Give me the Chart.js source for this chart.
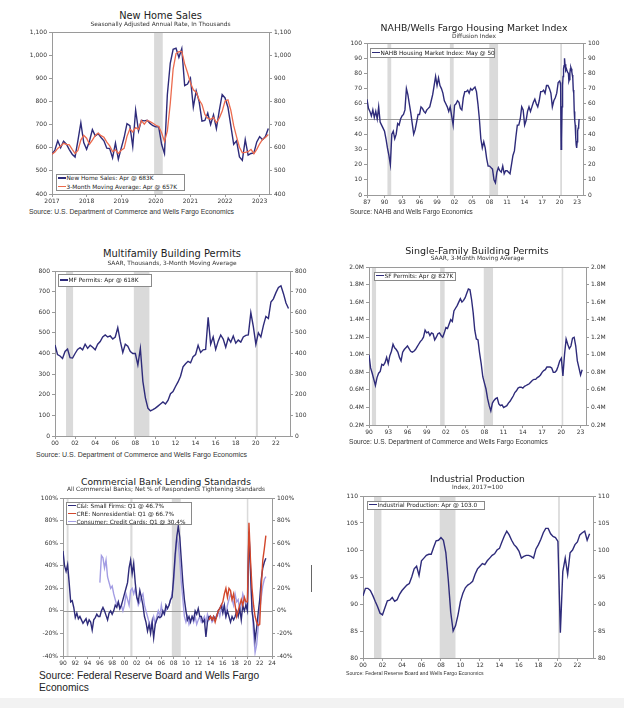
<!DOCTYPE html>
<html><head><meta charset="utf-8">
<script src="https://cdn.jsdelivr.net/npm/chart.js@4.4.0/dist/chart.umd.min.js"></script>
<style>
html,body{margin:0;padding:0;background:#fff;}
body{width:624px;height:708px;position:relative;overflow:hidden;font-family:'DejaVu Sans',sans-serif;}
.t{position:absolute;transform:translate(-50%,-50%);white-space:nowrap;color:#222;line-height:1;}
.title{font-size:9.5px;}
.sub{font-size:5.9px;color:#333;}
.src{position:absolute;font-family:'Liberation Sans',Arial,sans-serif;white-space:nowrap;color:#333;transform:translateY(-50%);line-height:1.15;}
canvas{position:absolute;}
.leg{position:absolute;border:1px solid #8a8a8a;background:#fff;font-size:5.8px;color:#222;box-sizing:border-box;}
.row{position:absolute;left:1px;white-space:nowrap;line-height:7px;height:7px;}
.sw{display:inline-block;width:8px;height:1.5px;vertical-align:middle;margin-right:0.5px;position:relative;top:-0.5px;}
</style></head><body>

<div class="t title" style="left:160.5px;top:15.7px;font-size:9.8px">New Home Sales</div>
<div class="t sub" style="left:160.5px;top:25px">Seasonally Adjusted Annual Rate, In Thousands</div>
<div class="src" style="left:29px;top:211.7px;font-size:6.8px">Source: U.S. Department of Commerce and Wells Fargo Economics</div>

<div class="t title" style="left:474px;top:27.7px;font-size:9.3px">NAHB/Wells Fargo Housing Market Index</div>
<div class="t sub" style="left:474px;top:36.7px">Diffusion Index</div>
<div class="src" style="left:350px;top:211.7px;font-size:6.4px">Source: NAHB and Wells Fargo Economics</div>

<div class="t title" style="left:172px;top:254.3px;font-size:9.9px">Multifamily Building Permits</div>
<div class="t sub" style="left:172px;top:264px">SAAR, Thousands, 3-Month Moving Average</div>
<div class="src" style="left:36px;top:455px;font-size:7px">Source: U.S. Department of Commerce and Wells Fargo Economics</div>

<div class="t title" style="left:477px;top:250.7px;font-size:9.5px">Single-Family Building Permits</div>
<div class="t sub" style="left:477.5px;top:259.3px">SAAR, 3-Month Moving Average</div>
<div class="src" style="left:349px;top:441.7px;font-size:6.6px">Source: U.S. Department of Commerce and Wells Fargo Economics</div>

<div class="t title" style="left:166px;top:481.7px;font-size:9.2px">Commercial Bank Lending Standards</div>
<div class="t sub" style="left:166px;top:490.3px">All Commercial Banks; Net % of Respondents Tightening Standards</div>
<div class="src" style="left:39px;top:681.7px;font-size:10.2px;color:#222;line-height:12px">Source: Federal Reserve Board and Wells Fargo<br>Economics</div>

<div class="t title" style="left:477.5px;top:479.3px;font-size:9.2px">Industrial Production</div>
<div class="t sub" style="left:477.5px;top:488.3px">Index, 2017=100</div>
<div class="src" style="left:346px;top:674.3px;font-size:5.15px">Source: Federal Reserve Board and Wells Fargo Economics</div>

<div style="position:absolute;left:0;top:698px;width:624px;height:10px;background:#f2f2f2"></div>
<div style="position:absolute;left:311px;top:565px;width:1px;height:27px;background:#666"></div>

<script>
// ---------- DATA ----------
// New Home Sales (monthly, Jan 2017 - Apr 2023), thousands SAAR
const nhsStart = 2017;
const nhsSales = [572,590,630,600,628,615,592,572,560,632,708,622,
  593,629,678,651,661,644,630,598,596,556,620,550,
  598,644,704,695,605,762,672,718,716,719,705,695,
  690,690,615,575,830,965,1025,1030,990,1028,868,875,
  900,775,845,800,715,718,750,700,742,682,760,830,
  815,775,695,615,630,560,545,635,568,575,578,625,
  648,635,648,683];
const nhsAvg = [572,581,597,607,619,614,612,593,575,588,633,654,
  641,615,633,653,663,652,645,624,608,583,591,575,
  589,597,649,681,668,687,680,717,702,718,713,706,
  697,692,665,627,673,790,940,1007,1015,1016,962,924,
  881,850,840,807,787,744,728,723,731,708,728,757,
  802,807,762,695,647,602,578,580,583,593,574,593,
  617,636,644,657];
const nhsXTicks = [2017,2018,2019,2020,2021,2022,2023];
const nhsYTicks = [400,500,600,700,800,900,1000,1100];
const nhsBands = [[2019.95,2020.2]];

// NAHB Housing Market Index: quarterly 1987-2019, monthly 2020-May 2023
const nahbQStart = 1987;
const nahbQ = [63,57,55,52, 56,51,55,50, 58,48,46,44, 42,37,31,26, 20,40,42,37,
  40,47,46,50, 52,53,56,70, 66,60,54,47, 40,43,48,53, 53,58,57,55,
  54,56,57,58, 62,66,72,78, 72,77,72,70, 67,62,60,58, 55,58,52,46,
  59,60,62,61, 57,56,64,68, 68,69,67,70, 69,70,71,68, 60,50,37,31,
  35,31,24,19, 19,18,17,10, 8,15,18,16, 15,19,14,16, 16,15,14,20,
  26,29,38,46, 46,50,58,56, 46,49,55,58, 55,58,61,63, 60,58,62,68,
  68,69,67,72, 72,70,67,58, 62,64,67,74];
const nahbMStart = 2020;
const nahbM = [75,74,72,30,37,58,72,78,83,85,90,86,
  83,82,83,83,81,81,80,75,76,80,83,84,
  83,81,79,77,69,67,55,49,46,38,33,31,
  35,42,44,45,50];
const nahbXTicks = [1987,1990,1993,1996,1999,2002,2005,2008,2011,2014,2017,2020,2023];
const nahbYTicks = [0,10,20,30,40,50,60,70,80,90,100];
const nahbBands = [[1990.5,1991.15],[2001.2,2001.85],[2007.95,2009.45],[2020.1,2020.4]];

// Multifamily permits, quarterly 2000 - Q2 2023 (thousands)
const mfStart = 2000;
const mfValues = [441,395,388,376, 410,422,380,378, 400,420,428,418, 445,425,440,430,
  418,445,458,480, 490,480,485,470, 480,525,460,405, 445,435,410,400,
  400,345,425,265, 185,135,122,128, 135,145,155,165, 155,172,205,215,
  240,262,290,335, 350,362,355,385, 395,440,405,418, 420,575,445,480,
  420,460,490,470, 430,475,455,485, 450,465,455,480, 488,490,598,530,
  445,500,480,535, 580,570,650,665, 695,720,728,690, 645,618];
const mfXTicks = [2000,2002,2004,2006,2008,2010,2012,2014,2016,2018,2020,2022];
const mfYTicks = [0,100,200,300,400,500,600,700,800];
const mfBands = [[2001.1,2001.8],[2007.85,2009.4],[2020.0,2020.2]];

// Single-family permits, quarterly 1990 - Q2 2023 (millions)
const sfStart = 1990;
const sfValues = [1.00,0.85,0.79,0.72, 0.65,0.74,0.79,0.81, 0.89,0.88,0.91,0.97, 0.90,0.99,1.04,1.12,
  1.08,1.06,1.03,0.97, 0.93,1.03,1.06,1.08, 1.10,1.07,1.04,1.03, 1.04,1.06,1.09,1.12,
  1.15,1.17,1.20,1.28, 1.25,1.26,1.22,1.25, 1.24,1.17,1.20,1.24, 1.25,1.22,1.20,1.25,
  1.31,1.30,1.35,1.40, 1.38,1.50,1.53,1.56, 1.60,1.64,1.60,1.62, 1.65,1.70,1.75,1.74,
  1.63,1.48,1.28,1.18, 1.17,1.02,0.90,0.75, 0.68,0.61,0.50,0.42, 0.36,0.45,0.48,0.50,
  0.51,0.44,0.42,0.43, 0.40,0.41,0.42,0.45, 0.47,0.50,0.53,0.57, 0.59,0.62,0.63,0.63,
  0.62,0.64,0.65,0.66, 0.67,0.69,0.71,0.72, 0.72,0.74,0.75,0.77, 0.80,0.82,0.83,0.86,
  0.86,0.86,0.85,0.80, 0.80,0.82,0.87,0.93, 0.96,0.76,1.00,1.18, 1.12,1.07,1.10,1.19,
  1.20,1.10,0.93,0.85, 0.77,0.83];
const sfXTicks = [1990,1993,1996,1999,2002,2005,2008,2011,2014,2017,2020,2023];
const sfYTicks = [0.2,0.4,0.6,0.8,1.0,1.2,1.4,1.6,1.8,2.0];
const sfBands = [[1990.45,1991.1],[2001.1,2001.8],[2007.9,2009.35],[2020.05,2020.3]];

// Lending standards, quarterly (net % tightening)
const ciStart = 1990;
const ciValues = [53,40,35,41, 25,8,9,3, -6,-2,-7,-5, -8,-11,-9,-7, -12,-8,-10,-17,
  -8,-6,-3,-5, -5,0,3,0, -4,-8,-2,0, -3,0,5,3, 8,2,5,10,
  15,20,25,38, 45,33,42,25, 12,8,18,12, 5,-5,-10,-18, -12,-20,-10,-24,
  -12,-8,-5,-6, -5,0,-3,5, 2,5,10,12, 30,50,65,75, 65,45,25,10,
  0,-8,-5,-10, -5,-8,0,-3, 2,-5,-5,-10, -8,-23,-10,-5, -5,-8,-5,-8,
  -5,0,2,5, -2,5,-5,0, -5,-10,-5,-8, -5,0,-5,2, -8,5,0,5,
  0,70,35,0, -10,-26,-15,-2, 10,28,38,43, 46.7];
const creStart = 2013.75;
const creValues = [-8, -5,-8,-5,-10, -5,0,2,5, 8,15,20,12, 20,18,10,15, 5,-5,0,5,
  10,5,12,8, 8,78,45,20, 5,-5,-10,-13, -12,20,45,55, 66.7];
const ccStart = 1996;
const ccValues = [25,49,47,38, 45,30,25,20, 22,15,10,5, 8,2,5,0, 5,15,10,5,
  18,20,15,20, 12,5,8,12, 15,5,0,-5, -10,-15,-10,-5, -12,-5,0,-5,
  5,-3,0,0, 3,5,10,15, 25,45,65,60, 45,25,10,-5, -10,-5,-12,-8,
  -5,-10,-5,-12, -8,-5,-10,-8, -5,-10,-3,-8, -5,-10,-8,-5, -5,0,-5,2,
  5,0,-5,5, 10,15,10,5, 15,8,10,0, 5,15,10,5, 5,70,40,5,
  -20,-37,-30,-15, 0,12,22,28, 30.4];
const lendXTicks = [1990,1992,1994,1996,1998,2000,2002,2004,2006,2008,2010,2012,2014,2016,2018,2020,2022,2024];
const lendYTicks = [-40,-20,0,20,40,60,80,100];
const lendBands = [[1990.6,1990.9],[2000.95,2001.3],[2007.7,2009.15],[2019.9,2020.15]];

// Industrial production, quarterly 2000 - Q2 2023 (2017=100)
const ipStart = 2000;
const ipValues = [91.5,92.9,92.9,92.5, 91.6,90.5,89.5,88.3, 88.0,89.3,90.6,90.7, 91.2,90.5,90.8,91.8,
  92.5,93.0,93.5,93.8, 95.0,96.5,97.0,95.3, 98.0,98.5,99.0,99.2, 99.2,100.5,101.7,101.8,
  102.3,101.8,99.5,94.5, 88.5,85.0,86.0,88.0, 90.5,92.0,93.0,93.5, 93.8,94.2,95.5,96.5,
  97.0,97.5,97.3,98.0, 98.5,99.0,99.3,100.0, 100.3,101.5,102.6,103.5, 102.8,101.8,101.0,100.5,
  99.8,98.5,98.8,99.0, 99.0,98.8,98.5,100.2, 101.0,102.0,103.2,104.0, 104.0,103.0,102.5,102.3,
  101.6,84.7,96.0,98.5, 95.5,99.5,100.0,101.0, 101.5,102.8,103.2,103.5, 101.8,103.0];
const ipXTicks = [2000,2002,2004,2006,2008,2010,2012,2014,2016,2018,2020,2022];
const ipYTicks = [80,85,90,95,100,105,110];
const ipBands = [[2001.13,2001.89],[2007.87,2009.49],[2020.02,2020.2]];

// ---------- DRAWING ----------
const NAVY = '#2e2b7a', SALMON = '#ec6b4e', RED = '#d2472c', LILAC = '#a39de3';
const pts = (start, step, vals) => vals.map((v, i) => ({x: start + i * step, y: v}));
const yy = v => String(v % 100).padStart(2, '0');

Chart.defaults.font.family = "'DejaVu Sans', sans-serif";

function panel(o) {
  const padL = 32, padR = 32, padT = 6, padB = 14;
  const W = o.R - o.L + padL + padR, H = o.B - o.T + padT + padB;
  const cv = document.createElement('canvas');
  cv.width = W; cv.height = H;
  cv.style.left = (o.L - padL) + 'px'; cv.style.top = (o.T - padT) + 'px';
  cv.style.width = W + 'px'; cv.style.height = H + 'px';
  document.body.insertBefore(cv, document.body.firstChild);
  const tf = {family: "'DejaVu Sans', sans-serif", size: 6};
  const axisCol = '#9a9a9a';
  const yAxis = pos => ({
    type: 'linear', position: pos, min: o.yMin, max: o.yMax,
    afterBuildTicks: a => { a.ticks = o.yTicks.map(v => ({value: v})); },
    afterFit: a => { a.width = pos === 'left' ? padL : padR; },
    grid: {drawOnChartArea: false, drawTicks: true, tickLength: 3, color: axisCol, lineWidth: 1},
    border: {display: true, color: axisCol, width: 1},
    ticks: {font: tf, color: '#333', padding: 2, autoSkip: false, callback: o.yFmt}
  });
  new Chart(cv, {
    type: 'line',
    data: {datasets: o.series.map(s => ({data: s.data, borderColor: s.color, borderWidth: s.w || 1.4,
      pointRadius: 0, tension: 0, fill: false}))},
    options: {
      responsive: false, animation: false, events: [],
      layout: {padding: {top: padT, left: 0, right: 0, bottom: 0}},
      plugins: {legend: {display: false}, tooltip: {enabled: false}},
      scales: {
        x: {type: 'linear', min: o.xMin, max: o.xMax,
          afterBuildTicks: a => { a.ticks = o.xTicks.map(v => ({value: v})); },
          afterFit: a => { a.height = padB; },
          grid: {drawOnChartArea: false, drawTicks: true, tickLength: 3, color: axisCol},
          border: {display: true, color: axisCol, width: 1},
          ticks: {font: tf, color: '#333', padding: 1, autoSkip: false, maxRotation: 0, callback: o.xFmt}},
        y: yAxis('left'),
        y2: yAxis('right')
      }
    },
    plugins: [{
      id: 'deco',
      beforeDatasetsDraw(c) {
        const {ctx, chartArea: a, scales} = c;
        const x = scales.x, y = scales.y;
        ctx.save();
        ctx.fillStyle = '#dadada';
        for (const [s, e] of o.bands) {
          const x1 = Math.max(a.left, x.getPixelForValue(s)), x2 = Math.min(a.right, x.getPixelForValue(e));
          if (x2 > x1) ctx.fillRect(x1, a.top, x2 - x1, a.bottom - a.top);
        }
        if (o.ref !== undefined) {
          const py = Math.round(y.getPixelForValue(o.ref)) + 0.5;
          ctx.strokeStyle = '#9a9a9a'; ctx.lineWidth = 1;
          ctx.beginPath(); ctx.moveTo(a.left, py); ctx.lineTo(a.right, py); ctx.stroke();
        }
        ctx.strokeStyle = axisCol; ctx.lineWidth = 1;
        ctx.beginPath(); ctx.moveTo(a.left, Math.round(a.top) + 0.5); ctx.lineTo(a.right, Math.round(a.top) + 0.5); ctx.stroke();
        ctx.restore();
      }
    }]
  });
  // legend (HTML text)
  const lg = document.createElement('div');
  lg.className = 'leg';
  Object.assign(lg.style, {left: o.leg.x + 'px', top: o.leg.y + 'px', width: o.leg.w + 'px', height: o.leg.h + 'px'});
  o.leg.rows.forEach((r, i) => {
    const d = document.createElement('div');
    d.className = 'row';
    d.style.top = (o.leg.r0 + i * o.leg.dy) + 'px';
    d.innerHTML = '<span class="sw" style="background:' + r[1] + '"></span>' + r[0];
    lg.appendChild(d);
  });
  document.body.appendChild(lg);
}

panel({L: 52, T: 32, R: 269, B: 194, xMin: 2017, xMax: 2023.27, xTicks: nhsXTicks, xFmt: v => String(v),
  yMin: 400, yMax: 1100, yTicks: nhsYTicks, yFmt: v => v.toLocaleString('en-US'), bands: nhsBands,
  series: [{data: pts(nhsStart, 1/12, nhsAvg), color: SALMON, w: 1.3}, {data: pts(nhsStart, 1/12, nhsSales), color: NAVY}],
  leg: {x: 56, y: 174, w: 129, h: 17, r0: 0, dy: 8.6, rows: [['New Home Sales: Apr @ 683K', NAVY], ['3-Month Moving Average: Apr @ 657K', SALMON]]}});

panel({L: 367, T: 43, R: 583, B: 195, xMin: 1987, xMax: 2024, xTicks: nahbXTicks, xFmt: yy,
  yMin: 0, yMax: 100, yTicks: nahbYTicks, yFmt: v => String(v), bands: nahbBands, ref: 50,
  series: [{data: pts(nahbQStart, 0.25, nahbQ).concat(pts(nahbMStart, 1/12, nahbM)), color: NAVY}],
  leg: {x: 370, y: 48, w: 125, h: 10, r0: 0.5, dy: 0, rows: [['NAHB Housing Market Index: May @ 50', NAVY]]}});

panel({L: 55, T: 271, R: 290, B: 436, xMin: 2000, xMax: 2023.4, xTicks: mfXTicks, xFmt: yy,
  yMin: 0, yMax: 800, yTicks: mfYTicks, yFmt: v => String(v), bands: mfBands,
  series: [{data: pts(mfStart, 0.25, mfValues), color: NAVY}],
  leg: {x: 58, y: 274, w: 94, h: 13, r0: 2, dy: 0, rows: [['MF Permits: Apr @ 618K', NAVY]]}});

panel({L: 369, T: 267, R: 586, B: 425, xMin: 1990, xMax: 2023.85, xTicks: sfXTicks, xFmt: yy,
  yMin: 0.2, yMax: 2.0, yTicks: sfYTicks, yFmt: v => v.toFixed(1) + 'M', bands: sfBands,
  series: [{data: pts(sfStart, 0.25, sfValues), color: NAVY}],
  leg: {x: 374, y: 271.5, w: 82, h: 9.5, r0: 0.3, dy: 0, rows: [['SF Permits: Apr @ 827K', NAVY]]}});

panel({L: 63, T: 498, R: 272, B: 656, xMin: 1990, xMax: 2024, xTicks: lendXTicks, xFmt: yy,
  yMin: -40, yMax: 100, yTicks: lendYTicks, yFmt: v => v + '%', bands: lendBands, ref: 0,
  series: [{data: pts(creStart, 0.25, creValues), color: RED}, {data: pts(ciStart, 0.25, ciValues), color: NAVY},
           {data: pts(ccStart, 0.25, ccValues), color: LILAC}],
  leg: {x: 66, y: 501.5, w: 126, h: 23.5, r0: 0, dy: 8, rows: [['C&amp;I: Small Firms: Q1 @ 46.7%', NAVY],
    ['CRE: Nonresidential: Q1 @ 66.7%', RED], ['Consumer: Credit Cards: Q1 @ 30.4%', LILAC]]}});

panel({L: 363, T: 496, R: 593, B: 658, xMin: 2000, xMax: 2023.6, xTicks: ipXTicks, xFmt: yy,
  yMin: 80, yMax: 110, yTicks: ipYTicks, yFmt: v => String(v), bands: ipBands,
  series: [{data: pts(ipStart, 0.25, ipValues), color: NAVY}],
  leg: {x: 367, y: 500.5, w: 118, h: 9, r0: 0.3, dy: 0, rows: [['Industrial Production: Apr @ 103.0', NAVY]]}});
</script>
</body></html>
